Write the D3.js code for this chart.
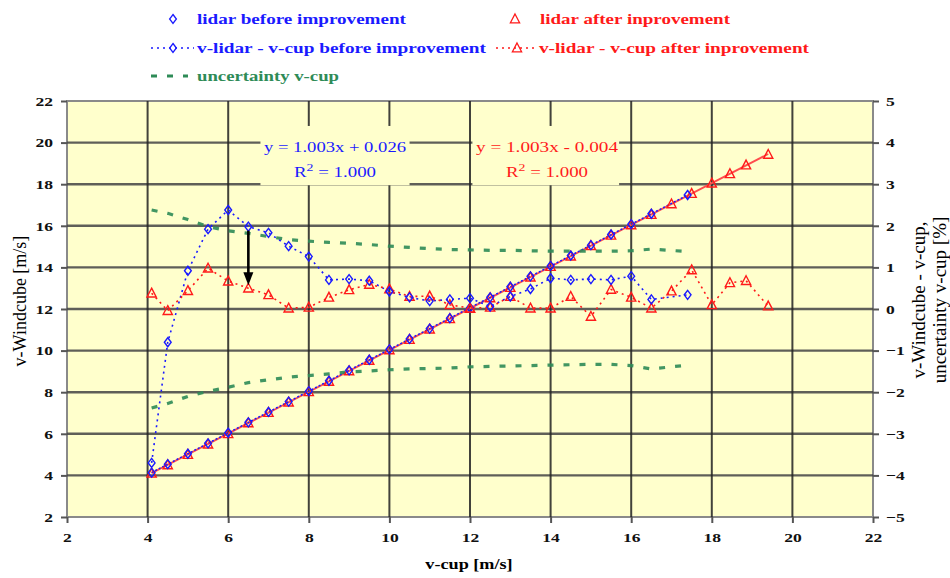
<!DOCTYPE html>
<meta charset="utf-8">
<style>
  body { margin: 0; background: #fff; }
  svg { display: block; }
  svg text { font-family: "Liberation Serif", "Times New Roman", Times, serif; }
</style>
<body>
<svg id="chart" width="950" height="578"></svg>
<script src="https://d3js.org/d3.v7.min.js"></script>
<script>
// ---- data ----
// lidar vs cup, before improvement (blue diamonds)
var cupBefore   = [4.1, 4.5, 5, 5.5, 6, 6.5, 7, 7.5, 8, 8.5, 9, 9.5, 10, 10.5, 11, 11.5, 12, 12.5, 13, 13.5, 14, 14.5, 15, 15.5, 16, 16.5, 17.4];
var lidarBefore = [4.13, 4.54, 5.04, 5.54, 6.05, 6.55, 7.05, 7.55, 8.05, 8.55, 9.05, 9.56, 10.06, 10.56, 11.06, 11.56, 12.06, 12.56, 13.07, 13.57, 14.07, 14.57, 15.07, 15.58, 16.08, 16.58, 17.48];
var devBefore   = [-3.7, -0.80, 0.92, 1.92, 2.38, 1.98, 1.83, 1.51, 1.26, 0.70, 0.72, 0.68, 0.42, 0.28, 0.19, 0.23, 0.26, 0.06, 0.30, 0.48, 0.74, 0.70, 0.72, 0.70, 0.79, 0.23, 0.34];
var uncUpper    = [2.38, 2.30, 2.15, 1.98, 1.88, 1.82, 1.74, 1.67, 1.63, 1.60, 1.58, 1.55, 1.51, 1.48, 1.45, 1.43, 1.42, 1.41, 1.41, 1.40, 1.39, 1.39, 1.39, 1.39, 1.40, 1.44, 1.38];
var uncLower    = [-2.38, -2.27, -2.10, -1.98, -1.88, -1.77, -1.70, -1.64, -1.60, -1.56, -1.51, -1.49, -1.46, -1.44, -1.43, -1.42, -1.39, -1.38, -1.37, -1.36, -1.35, -1.34, -1.33, -1.33, -1.36, -1.44, -1.35];

// lidar vs cup, after improvement (red triangles)
var cupAfter    = [4.1, 4.5, 5, 5.5, 6, 6.5, 7, 7.5, 8, 8.5, 9, 9.5, 10, 10.5, 11, 11.5, 12, 12.5, 13, 13.5, 14, 14.5, 15, 15.5, 16, 16.5, 17, 17.5, 18, 18.45, 18.85, 19.4];
var lidarAfter  = [4.1, 4.5, 5.0, 5.5, 6.0, 6.52, 7.02, 7.52, 8.02, 8.52, 9.02, 9.53, 10.03, 10.53, 11.03, 11.53, 12.03, 12.53, 13.03, 13.53, 14.04, 14.54, 15.04, 15.54, 16.04, 16.54, 17.05, 17.55, 18.05, 18.5, 18.92, 19.43];
var devAfter    = [0.38, -0.04, 0.44, 0.98, 0.67, 0.50, 0.34, 0.02, 0.04, 0.28, 0.46, 0.59, 0.48, 0.30, 0.31, 0.10, 0.02, 0.04, 0.30, 0.02, 0.02, 0.30, -0.18, 0.47, 0.28, 0.02, 0.43, 0.94, 0.10, 0.63, 0.68, 0.07];

// trend lines  y = a*x + b
var trendBefore = {a: 1.003, b: 0.026, x0: 4.1, x1: 17.4, eq: "y = 1.003x + 0.026"};
var trendAfter  = {a: 1.003, b: -0.004, x0: 4.1, x1: 19.4, eq: "y = 1.003x - 0.004"};

var xTicks  = [2, 4, 6, 8, 10, 12, 14, 16, 18, 20, 22];
var yTicks  = [2, 4, 6, 8, 10, 12, 14, 16, 18, 20, 22];
var y2Ticks = [-5, -4, -3, -2, -1, 0, 1, 2, 3, 4, 5];

// ---- layout ----
var L = 67, R = 873, T = 101, B = 517;
var SX = 1.3;  // the picture's text is wide
var BLUE = "#1a1aff", RED = "#ff1a1a", GREEN = "#2e8b57", BG = "#ffffcc";
var SERIF = '"Liberation Serif", "Times New Roman", Times, serif';

var svg = d3.select("#chart");
var x  = d3.scaleLinear().domain([2, 22]).range([L, R]);
var y  = d3.scaleLinear().domain([2, 22]).range([B, T]);
var y2 = d3.scaleLinear().domain([-5, 5]).range([B, T]);

svg.append("rect").attr("x", L).attr("y", T).attr("width", R - L).attr("height", B - T)
  .attr("fill", BG).attr("stroke", "#8a8a8a").attr("stroke-width", 2);

// grid
svg.append("g").selectAll("line").data(yTicks.slice(1, -1)).join("line")
  .attr("x1", L).attr("x2", R).attr("y1", d => y(d)).attr("y2", d => y(d))
  .attr("stroke", "#444").attr("stroke-width", 2.4).attr("opacity", 0.85);
svg.append("g").selectAll("line").data(xTicks.slice(1, -1)).join("line")
  .attr("x1", d => x(d)).attr("x2", d => x(d)).attr("y1", T).attr("y2", B)
  .attr("stroke", "#222").attr("stroke-width", 2).attr("opacity", 0.85);

// boxes behind the equations
var boxes = [[6.8, 10.5], [12.06, 15.7]];
svg.append("g").selectAll("rect").data(boxes).join("rect")
  .attr("x", d => x(d[0])).attr("width", d => x(d[1]) - x(d[0]))
  .attr("y", y(20.8)).attr("height", y(17.95) - y(20.8)).attr("fill", BG);

function stretchAxis(g) {
  g.attr("font-family", null);
  g.select(".domain").remove();
  g.selectAll(".tick line").attr("stroke", "#555").attr("stroke-width", 2);
  g.selectAll("text").each(function() {
    var t = d3.select(this);
    var xx = +t.attr("x") || 0;
    t.attr("x", xx / SX).attr("transform", "scale(" + SX + ",1)");
  });
  g.selectAll("text").style("font-family", SERIF).style("font-size", "13.5px")
    .style("font-weight", "bold").attr("fill", "#111");
}

svg.append("g").attr("transform", "translate(" + L + ",0)")
  .call(d3.axisLeft(y).tickValues(yTicks).tickSize(6).tickPadding(8))
  .call(stretchAxis);
svg.append("g").attr("transform", "translate(0," + B + ")")
  .call(d3.axisBottom(x).tickValues(xTicks).tickSize(6).tickPadding(9))
  .call(stretchAxis);
svg.append("g").attr("transform", "translate(" + R + ",0)")
  .call(d3.axisRight(y2).tickValues(y2Ticks).tickSize(6).tickPadding(7))
  .call(stretchAxis);

// axis titles
svg.append("text").attr("transform", "translate(469,569) scale(" + SX + ",1)")
  .attr("text-anchor", "middle").style("font-size", "14px").style("font-weight", "bold")
  .text("v-cup [m/s]");
svg.append("text").attr("transform", "translate(26,301) rotate(-90)")
  .attr("text-anchor", "middle").style("font-size", "18px").text("v-Windcube [m/s]");
svg.append("text").attr("transform", "translate(925,300) rotate(-90)")
  .attr("text-anchor", "middle").style("font-size", "19px").text("v-Windcube - v-cup,");
svg.append("text").attr("transform", "translate(946,300) rotate(-90)")
  .attr("text-anchor", "middle").style("font-size", "19px").text("uncertainty v-cup [%]");

// trend lines
var line = d3.line().x(d => x(d[0])).y(d => y(d[1]));
function trendPts(t) { return [[t.x0, t.a * t.x0 + t.b], [t.x1, t.a * t.x1 + t.b]]; }
svg.append("path").attr("d", line(trendPts(trendAfter))).attr("fill", "none")
  .attr("stroke", "#ff4d4d").attr("stroke-width", 1.8);
svg.append("path").attr("d", line(trendPts(trendBefore))).attr("fill", "none")
  .attr("stroke", BLUE).attr("stroke-width", 1.5).attr("stroke-dasharray", "2,2");

// uncertainty (right axis)
var line2 = d3.line().x(d => x(d[0])).y(d => y2(d[1]));
[uncUpper, uncLower].forEach(function(u) {
  svg.append("path").attr("d", line2(cupBefore.map((c, i) => [c, u[i]])))
    .attr("fill", "none").attr("stroke", GREEN).attr("stroke-width", 3.2)
    .attr("stroke-dasharray", "6,10").attr("opacity", 0.9);
});

// deviation lines
svg.append("path").attr("d", line2(cupBefore.map((c, i) => [c, devBefore[i]])))
  .attr("fill", "none").attr("stroke", BLUE).attr("stroke-width", 1.6).attr("stroke-dasharray", "2,4");
svg.append("path").attr("d", line2(cupAfter.map((c, i) => [c, devAfter[i]])))
  .attr("fill", "none").attr("stroke", RED).attr("stroke-width", 1.6).attr("stroke-dasharray", "2,4");

// markers
var diamond = "M0,-4.5L3.4,0L0,4.5L-3.4,0Z";
var triangle = "M0,-5L4.6,3.8L-4.6,3.8Z";
function marks(xs, ys, sc, path, col) {
  svg.append("g").selectAll("path").data(xs).join("path")
    .attr("transform", (d, i) => "translate(" + x(d) + "," + sc(ys[i]) + ")")
    .attr("d", path).attr("fill", "none").attr("stroke", col).attr("stroke-width", 1.4);
}
marks(cupAfter, lidarAfter, y, triangle, RED);
marks(cupBefore, lidarBefore, y, diamond, BLUE);
marks(cupAfter, devAfter, y2, triangle, RED);
marks(cupBefore, devBefore, y2, diamond, BLUE);

// arrow from before to after deviation at 6.5 m/s
var ai = cupBefore.indexOf(6.5), aj = cupAfter.indexOf(6.5);
var ax = x(6.5), ay0 = y2(devBefore[ai]) + 4, ay1 = y2(devAfter[aj]) - 3;
svg.append("line").attr("x1", ax).attr("x2", ax).attr("y1", ay0).attr("y2", ay1 - 10)
  .attr("stroke", "#000").attr("stroke-width", 2.6);
svg.append("path").attr("d", "M" + (ax - 5) + "," + (ay1 - 13) + "L" + (ax + 5) + "," + (ay1 - 13) + "L" + ax + "," + ay1 + "Z")
  .attr("fill", "#000");

// equations
function eq(t, cx, col) {
  svg.append("text").attr("x", cx).attr("y", 152).attr("text-anchor", "middle")
    .style("font-size", "15px").attr("fill", col).attr("textLength", 142)
    .attr("lengthAdjust", "spacingAndGlyphs").text(t.eq);
  var r = svg.append("text").attr("x", cx).attr("y", 177).attr("text-anchor", "middle")
    .style("font-size", "15px").attr("fill", col).attr("textLength", 82).attr("lengthAdjust", "spacingAndGlyphs");
  r.append("tspan").text("R");
  r.append("tspan").attr("dy", -6).style("font-size", "11px").text("2");
  r.append("tspan").attr("dy", 6).text(" = 1.000");
}
eq(trendBefore, 335, BLUE);
eq(trendAfter, 547, RED);

// legend
var leg = svg.append("g");
function legText(tx, ty, w, col, s) {
  leg.append("text").attr("x", tx).attr("y", ty).attr("fill", col)
    .style("font-size", "15px").style("font-weight", "bold")
    .attr("textLength", w).attr("lengthAdjust", "spacingAndGlyphs").text(s);
}
function legSym(cx, cy, path, col) {
  leg.append("path").attr("transform", "translate(" + cx + "," + cy + ")").attr("d", path)
    .attr("fill", "none").attr("stroke", col).attr("stroke-width", 1.3);
}
function legLine(x0, x1, cy, col, dash, w) {
  leg.append("line").attr("x1", x0).attr("x2", x1).attr("y1", cy).attr("y2", cy)
    .attr("stroke", col).attr("stroke-width", w).attr("stroke-dasharray", dash);
}
legSym(173, 19, diamond, BLUE);
legText(197, 24, 209, BLUE, "lidar before improvement");
legSym(515, 19, triangle, RED);
legText(540, 24, 190, RED, "lidar after inprovement");
legLine(151, 194, 48, BLUE, "2,4", 1.6);
legSym(173, 48, diamond, BLUE);
legText(197, 53, 289, BLUE, "v-lidar - v-cup before improvement");
legLine(496, 537, 48, RED, "2,4", 1.6);
legSym(517, 48, triangle, RED);
legText(539, 53, 270, RED, "v-lidar - v-cup after inprovement");
legLine(151, 188, 76, GREEN, "6,10", 3.2);
legText(197, 81, 142, GREEN, "uncertainty v-cup");
</script>
</body>
